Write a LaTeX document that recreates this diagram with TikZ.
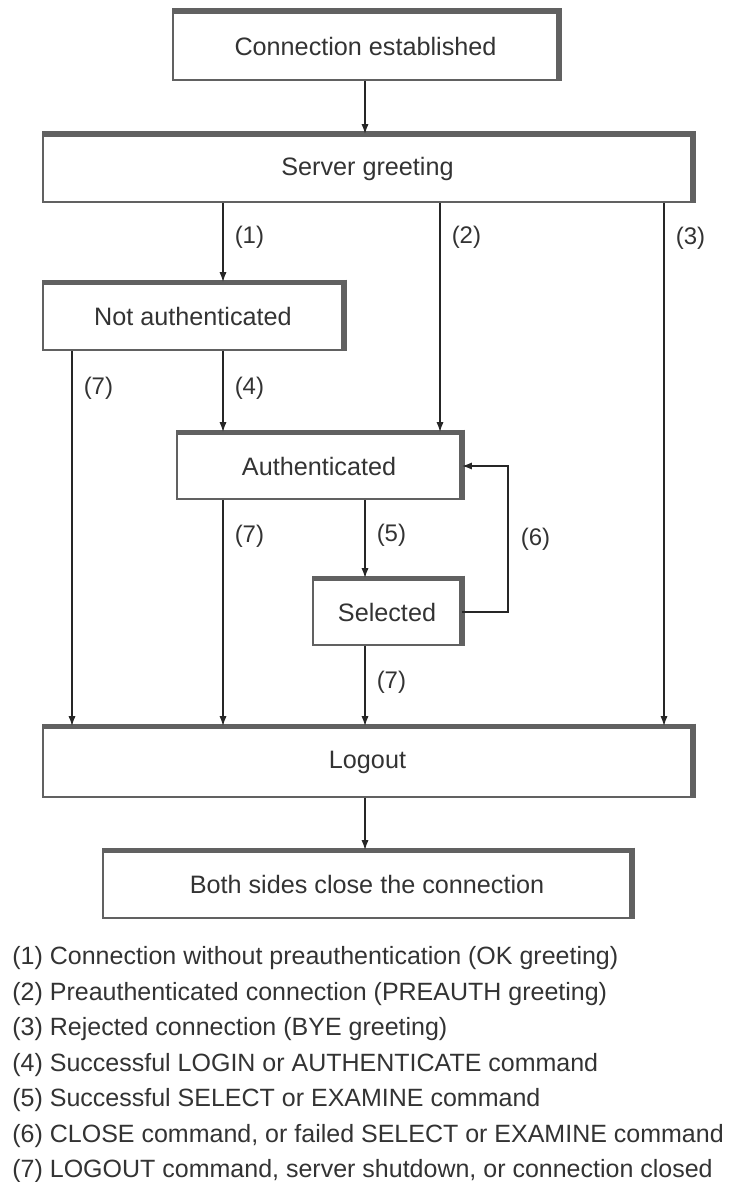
\documentclass[tikz,border=0pt]{standalone}
\usepackage{fontspec}
\setmainfont{Liberation Sans}
\usetikzlibrary{arrows.meta, positioning}
\tikzstyle{sombra} = [draw=black!62, line width=2.6pt, line cap=butt]
\tikzstyle{estado} = [draw=black!62, line width=0.9pt, rectangle, inner sep=0pt, text=black!80, font=\fontsize{12.6}{15}\selectfont, append after command={(\tikzlastnode.north west) edge[sombra] ([xshift=1.3pt]\tikzlastnode.north east) ([yshift=1.3pt]\tikzlastnode.north east) edge[sombra] (\tikzlastnode.south east)}]
\tikzstyle{flecha} = [-{Latex[length=5pt,width=3.6pt]}, line width=0.75pt, draw=black!85]
\tikzstyle{etiqueta} = [inner sep=0pt, text=black!80, font=\fontsize{12}{14}\selectfont]

\begin{document}
\begin{tikzpicture}[x=0.5pt, y=-0.5pt]
	\useasboundingbox (0,0) rectangle (739,1182);
	% estados
	\node[estado, minimum width=192.5pt, minimum height=34pt] (conn) at (365.5,46) {Connection established};
	\node[estado, minimum width=324.5pt, minimum height=33.5pt] (greet) at (367.5,168.5) {Server greeting};
	\node[estado, minimum width=150pt, minimum height=33.5pt] (notauth) at (193,316.5) {Not authenticated};
	\node[estado, minimum width=142pt, minimum height=33pt] (auth) at (319,466) {Authenticated};
	\node[estado, minimum width=74pt, minimum height=33pt] (sel) at (387,612) {Selected};
	\node[estado, minimum width=324.5pt, minimum height=35pt] (logout) at (367.5,762) {Logout};
	\node[estado, minimum width=264pt, minimum height=33.5pt] (both) at (367,884.5) {Both sides close the connection};
	% columnas de las flechas
	\coordinate (c1) at (72,0);
	\coordinate (c2) at (223,0);
	\coordinate (c3) at (365,0);
	\coordinate (c4) at (440,0);
	\coordinate (c5) at (664,0);
	\coordinate (c6) at (508,0);
	% transiciones
	\draw[flecha] (conn.south -| c3) -- (greet.north -| c3);
	\draw[flecha] (greet.south -| c2) -- (notauth.north -| c2) node[etiqueta, pos=0.43, right=5.5pt] {(1)};
	\draw[flecha] (greet.south -| c4) -- (auth.north -| c4) node[etiqueta, pos=0.15, right=5.5pt] {(2)};
	\draw[flecha] (greet.south -| c5) -- (logout.north -| c5) node[etiqueta, pos=0.067, right=5.5pt] {(3)};
	\draw[flecha] (notauth.south -| c1) -- (logout.north -| c1) node[etiqueta, pos=0.1, right=5.5pt] {(7)};
	\draw[flecha] (notauth.south -| c2) -- (auth.north -| c2) node[etiqueta, pos=0.46, right=5.5pt] {(4)};
	\draw[flecha] (auth.south -| c2) -- (logout.north -| c2) node[etiqueta, pos=0.16, right=5.5pt] {(7)};
	\draw[flecha] (auth.south -| c3) -- (sel.north -| c3) node[etiqueta, pos=0.45, right=5.5pt] {(5)};
	\draw[flecha] (sel.south -| c3) -- (logout.north -| c3) node[etiqueta, pos=0.45, right=5.5pt] {(7)};
	\draw[flecha] (sel.east) -- (sel.east -| c6) -- (auth.east -| c6) node[etiqueta, midway, right=6pt] {(6)} -- (auth.east);
	\draw[flecha] (logout.south -| c3) -- (both.north -| c3);
	% leyenda
	\node[anchor=north west, align=left, inner sep=0pt, text=black!80, font=\fontsize{12.5}{17.75}\selectfont] (leyenda) at (12,946) {%
		(1) Connection without preauthentication (OK greeting)\\
		(2) Preauthenticated connection (PREAUTH greeting)\\
		(3) Rejected connection (BYE greeting)\\
		(4) Successful LOGIN or AUTHENTICATE command\\
		(5) Successful SELECT or EXAMINE command\\
		(6) CLOSE command, or failed SELECT or EXAMINE command\\
		(7) LOGOUT command, server shutdown, or connection closed};
\end{tikzpicture}
\end{document}
